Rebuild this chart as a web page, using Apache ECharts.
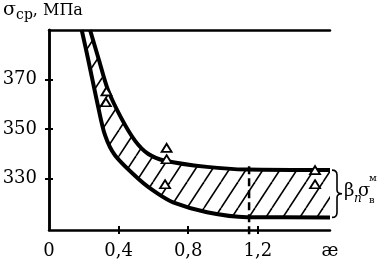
<!DOCTYPE html>
<html>
<head>
<meta charset="utf-8">
<script src="https://cdn.jsdelivr.net/npm/echarts@6/dist/echarts.min.js"></script>
<style>
	html, body { margin: 0; padding: 0; background: #fff; }
	#chart { width: 390px; height: 264px; }
</style>
</head>
<body>
<div id="chart"></div>
<script>
// æ values and mean stress
const xMin = 0;
const xMax = 1.615;
const yMin = 309.2;
const yMax = 390;
const xTicks = [0.4, 0.8, 1.2];
const xLabels = [0, 0.4, 0.8, 1.2, xMax];
const yTicks = [330, 350, 370];

const lowerCurve = [
	[0.188, 390], [0.224, 378.5], [0.281, 359.5], [0.322, 347.5], [0.379, 339.4],
	[0.523, 329.3], [0.621, 324.1], [0.713, 320.4], [0.908, 316.4],
	[1.138, 314.4], [1.615, 314.3]
];
const upperCurve = [
	[0.236, 390], [0.287, 377.9], [0.339, 365.8], [0.414, 354.6], [0.494, 345.3],
	[0.569, 340.0], [0.667, 337.2], [0.908, 334.7], [1.138, 333.6], [1.615, 333.4]
];
const measured = [
	[0.33, 365.2], [0.327, 360.8],
	[0.676, 342.4], [0.676, 337.8], [0.667, 327.7],
	[1.529, 333.4], [1.529, 327.7]
];
const kappaK = 1.15;
const kappaLine = [[kappaK, 335], [kappaK, 307.5]];
const bandEnd = [[xMax, 333.4, 314.3]];

const FONT = "DejaVu Serif";

function hatch() {
	const c = document.createElement("canvas");
	c.width = 17;
	c.height = 26;
	const g = c.getContext("2d");
	g.strokeStyle = "#000";
	g.lineWidth = 1.6;
	for (const k of [-1, 0, 1]) {
		g.beginPath();
		g.moveTo(k * 17, 26);
		g.lineTo(k * 17 + 17, 0);
		g.stroke();
	}
	return c;
}

const chart = echarts.init(document.getElementById("chart"));

const axisLine = { lineStyle: { color: "#000", width: 2.5 } };
const plainAxis = {
	type: "value",
	axisLine: axisLine,
	axisTick: { show: false },
	axisLabel: { show: false },
	splitLine: { show: false },
	z: 6
};

const option = {
	animation: false,
	textStyle: { fontFamily: FONT },
	grid: { left: 49, right: 60, top: 30, bottom: 34, outerBoundsMode: "none" },
	xAxis: [{
		type: "value",
		min: xMin,
		max: xMax,
		axisLine: axisLine,
		axisTick: { length: 4, lineStyle: { width: 2 }, customValues: xTicks },
		axisLabel: {
			customValues: xLabels,
			margin: 12,
			color: "#000",
			fontFamily: FONT,
			fontSize: 18,
			formatter: v => v > 1.5 ? "æ" : String(v).replace(".", ",")
		},
		splitLine: { show: false },
		z: 6
	}, {
		type: "value",
		min: xMin,
		max: xMax,
		position: "bottom",
		axisLine: { show: false },
		axisTick: { inside: true, length: 4, lineStyle: { color: "#000", width: 2 }, customValues: xTicks },
		axisLabel: { show: false },
		splitLine: { show: false },
		z: 6
	}, Object.assign({ min: xMin, max: xMax, position: "top" }, plainAxis)],
	yAxis: [{
		type: "value",
		min: yMin,
		max: yMax,
		name: "{s|σ}{c|ср}{t|, МПа}",
		nameLocation: "end",
		nameGap: 8,
		nameTextStyle: {
			align: "center",
			padding: [0, 12, 0, 0],
			rich: {
				s: { fontFamily: FONT, fontSize: 19, color: "#000" },
				c: { fontFamily: FONT, fontSize: 14, color: "#000", padding: [9, 0, 0, 0] },
				t: { fontFamily: FONT, fontSize: 16, color: "#000" }
			}
		},
		axisLine: axisLine,
		axisTick: { length: 4, lineStyle: { width: 2 }, customValues: yTicks },
		axisLabel: {
			customValues: yTicks,
			margin: 12,
			color: "#000",
			fontFamily: FONT,
			fontSize: 18
		},
		splitLine: { show: false },
		z: 6
	}, {
		type: "value",
		min: yMin,
		max: yMax,
		position: "left",
		axisLine: { show: false },
		axisTick: { inside: true, length: 4, lineStyle: { color: "#000", width: 2 }, customValues: yTicks },
		axisLabel: { show: false },
		splitLine: { show: false },
		z: 6
	}, Object.assign({ min: yMin, max: yMax, position: "right" }, plainAxis)],
	series: [{
		name: "lower",
		type: "line",
		data: lowerCurve,
		smooth: 0.3,
		symbol: "none",
		lineStyle: { color: "#000", width: 4 },
		areaStyle: { origin: "end", opacity: 1, color: { image: hatch(), repeat: "repeat" } },
		z: 2
	}, {
		name: "upper",
		type: "line",
		data: upperCurve,
		smooth: 0.3,
		symbol: "none",
		lineStyle: { color: "#000", width: 4 },
		areaStyle: { origin: "end", opacity: 1, color: "#fff" },
		z: 3
	}, {
		name: "kappa",
		type: "line",
		clip: false,
		symbol: "none",
		lineStyle: { color: "#000", width: 2.5, type: [8, 4] },
		data: [{
			value: kappaLine[0],
			label: {
				show: true,
				position: "top",
				distance: 3,
				formatter: "{a|æ}{b|к}",
				rich: {
					a: { fontFamily: FONT, fontSize: 18, color: "#000" },
					b: { fontFamily: FONT, fontSize: 12, color: "#000", padding: [8, 0, 0, 0] }
				}
			}
		}, kappaLine[1]],
		z: 4
	}, {
		name: "points",
		type: "scatter",
		data: measured,
		symbol: "triangle",
		symbolSize: [10, 8],
		itemStyle: { color: "#fff", borderColor: "#000", borderWidth: 1.8, opacity: 1 },
		z: 5
	}, {
		name: "brace",
		type: "custom",
		clip: false,
		data: bandEnd,
		renderItem: (params, api) => {
			const p1 = api.coord([api.value(0), api.value(1)]);
			const p2 = api.coord([api.value(0), api.value(2)]);
			const x0 = p1[0] + 2;
			const top = p1[1];
			const bot = p2[1];
			const mid = (top + bot) / 2;
			const path = `M${x0},${top} Q${x0 + 5},${top} ${x0 + 5},${top + 5} L${x0 + 5},${mid - 4} Q${x0 + 5},${mid} ${x0 + 10},${mid} Q${x0 + 5},${mid} ${x0 + 5},${mid + 4} L${x0 + 5},${bot - 5} Q${x0 + 5},${bot} ${x0},${bot}`;
			const txt = (text, dx, dy, size, italic) => ({
				type: "text",
				x: x0 + dx,
				y: mid + dy,
				style: {
					text: text,
					fontSize: size,
					fontFamily: FONT,
					fontStyle: italic ? "italic" : "normal",
					fill: "#000",
					verticalAlign: "middle",
					align: "left"
				}
			});
			return {
				type: "group",
				children: [
					{ type: "path", shape: { pathData: path }, style: { stroke: "#000", lineWidth: 1.6, fill: null } },
					txt("β", 12, -2, 18, false),
					txt("n", 22, 5, 12, true),
					txt("σ", 26, -2, 18, false),
					txt("в", 37, 7, 10, false),
					txt("м", 37, -15, 10, false)
				]
			};
		},
		z: 5
	}]
};

chart.setOption(option);
window.onresize = chart.resize;
</script>
</body>
</html>
